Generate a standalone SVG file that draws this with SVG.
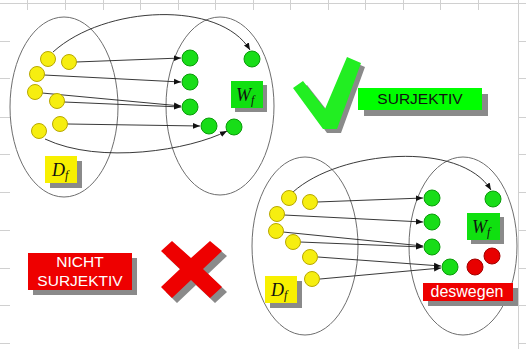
<svg xmlns="http://www.w3.org/2000/svg" width="526" height="349" viewBox="0 0 526 349">
<style>
.grid{stroke:#d0d0d0;stroke-width:1;fill:none}
.set{fill:none;stroke:#6e6e6e;stroke-width:1}
.arr{fill:none;stroke:#222;stroke-width:0.9;marker-end:url(#ah)}
.y{fill:#f6ee10;stroke:#b8a800;stroke-width:1}
.g{fill:#18dd18;stroke:#0a9a0a;stroke-width:1}
.r{fill:#e80000;stroke:#a00000;stroke-width:1}
.sh{fill:#8a8a8a}
.lbl{font-family:"Liberation Serif","Times New Roman",serif;font-style:italic;fill:#111}
.sans{font-family:"Liberation Sans",Arial,sans-serif}
</style>
<defs>
<marker id="ah" viewBox="0 0 10 10" refX="10" refY="5" markerWidth="7" markerHeight="7" orient="auto" markerUnits="userSpaceOnUse">
<path d="M0,1 L10,5 L0,9 z" fill="#111"/>
</marker>
</defs>
<rect width="526" height="349" fill="#ffffff"/>
<g id="grid">
<path class="grid" d="M0,3.5 H526 M518.5,0 V349"/>
<path class="grid" d="M27.5,0 V10 M65.5,0 V10 M103.5,0 V10 M140.5,0 V10 M178.5,0 V10 M215.5,0 V10 M253.5,0 V10 M290.5,0 V10 M328.5,0 V10 M365.5,0 V10 M403.5,0 V10 M440.5,0 V10 M478.5,0 V10"/>
<path class="grid" d="M0,41.5 H10 M0,78.5 H10 M0,117.5 H10 M0,154.5 H10 M0,192.5 H10 M0,230.5 H10 M0,268.5 H10 M0,305.5 H10 M0,343.5 H10"/>
<path class="grid" d="M518,41.5 H526 M518,78.5 H526 M518,117.5 H526 M518,154.5 H526 M518,192.5 H526 M518,230.5 H526 M518,268.5 H526 M518,305.5 H526 M518,343.5 H526"/>
</g>
<g id="set-df-top"><ellipse class="set" cx="64" cy="107" rx="54" ry="90"/></g>
<g id="set-wf-top"><ellipse class="set" cx="220" cy="106" rx="54" ry="89"/></g>
<g id="set-df-bottom"><ellipse class="set" cx="305" cy="246" rx="53" ry="89"/></g>
<g id="set-wf-bottom"><ellipse class="set" cx="463" cy="246" rx="54" ry="89"/></g>
<g id="connectors">
<path class="arr" d="M53,52 C105,5 220,0 250,50"/>
<path class="arr" d="M76,62 L181,58"/>
<path class="arr" d="M44,75 L181,82"/>
<path class="arr" d="M42,93 L181,106"/>
<path class="arr" d="M64,102 L181,107"/>
<path class="arr" d="M68,124 L200,126"/>
<path class="arr" d="M45,139 C100,165 190,150 227,131"/>
<path class="arr" d="M293,192 C340,150 460,140 491,190"/>
<path class="arr" d="M317,202 L423,198"/>
<path class="arr" d="M284,215 L423,222"/>
<path class="arr" d="M283,232 L423,246"/>
<path class="arr" d="M300,242 L423,247"/>
<path class="arr" d="M318,257 L441,266"/>
<path class="arr" d="M320,279 L441,268"/>
</g>
<g id="df-top-elements">
<circle class="y" cx="48" cy="59" r="7.5"/>
<circle class="y" cx="69" cy="62" r="7.5"/>
<circle class="y" cx="37" cy="74" r="7.5"/>
<circle class="y" cx="35" cy="92" r="7.5"/>
<circle class="y" cx="57" cy="101" r="7.5"/>
<circle class="y" cx="60" cy="124" r="7.5"/>
<circle class="y" cx="39" cy="131" r="7.5"/>
</g>
<g id="wf-top-elements">
<circle class="g" cx="190" cy="58" r="8"/>
<circle class="g" cx="252" cy="59" r="8"/>
<circle class="g" cx="190" cy="82" r="8"/>
<circle class="g" cx="190" cy="107" r="8"/>
<circle class="g" cx="209" cy="126" r="8"/>
<circle class="g" cx="234" cy="127" r="8"/>
</g>
<g id="label-df-top">
<rect class="sh" x="50" y="161" width="32" height="27"/>
<rect x="45" y="156" width="32" height="27" fill="#f8f000"/>
<text class="lbl" x="52" y="176" font-size="18">D<tspan font-size="12" dy="3">f</tspan></text>
</g>
<g id="label-wf-top">
<rect class="sh" x="235" y="85" width="32" height="27"/>
<rect x="231" y="81" width="32" height="27" fill="#10e010"/>
<text class="lbl" x="236" y="101" font-size="18">W<tspan font-size="12" dy="3">f</tspan></text>
</g>
<g id="check">
<polygon class="sh" points="297,92 307,85 329,113 351,61 365,67 341,133 327,133"/>
<polygon points="293,88 303,81 325,109 347,57 361,63 337,129 323,129" fill="#22ee22"/>
</g>
<g id="surjektiv">
<rect class="sh" x="364" y="94" width="124" height="22"/>
<rect x="358" y="88" width="124" height="22" fill="#00ff00"/>
<text class="sans" x="420" y="104" font-size="15.5" text-anchor="middle" fill="#111">SURJEKTIV</text>
</g>
<g id="nicht-surjektiv">
<rect class="sh" x="33" y="258" width="104" height="37"/>
<rect x="28" y="253" width="104" height="37" fill="#ee0000"/>
<text class="sans" x="80" y="267" font-size="15.5" text-anchor="middle" fill="#ffffff">NICHT</text>
<text class="sans" x="80" y="286" font-size="15.5" text-anchor="middle" fill="#ffffff">SURJEKTIV</text>
</g>
<g id="cross">
<polygon class="sh" points="166,256 177,246 196,263 215,246 227,256 208,274 227,292 215,303 196,285 177,303 166,292 185,274"/>
<polygon points="161,251 172,241 191,258 210,241 222,251 203,269 222,287 210,298 191,280 172,298 161,287 180,269" fill="#ee0000"/>
</g>
<g id="df-bottom-elements">
<circle class="y" cx="289" cy="198" r="7.5"/>
<circle class="y" cx="310" cy="202" r="7.5"/>
<circle class="y" cx="277" cy="214" r="7.5"/>
<circle class="y" cx="276" cy="231" r="7.5"/>
<circle class="y" cx="293" cy="242" r="7.5"/>
<circle class="y" cx="310" cy="257" r="7.5"/>
<circle class="y" cx="312" cy="279" r="7.5"/>
</g>
<g id="wf-bottom-elements">
<circle class="g" cx="432" cy="198" r="8"/>
<circle class="g" cx="493" cy="199" r="8"/>
<circle class="g" cx="432" cy="222" r="8"/>
<circle class="g" cx="432" cy="247" r="8"/>
<circle class="g" cx="450" cy="267" r="8"/>
<circle class="r" cx="475" cy="267" r="8"/>
<circle class="r" cx="492" cy="256" r="8"/>
</g>
<g id="label-df-bottom">
<rect class="sh" x="270" y="281" width="32" height="27"/>
<rect x="265" y="276" width="32" height="27" fill="#f8f000"/>
<text class="lbl" x="271" y="296" font-size="18">D<tspan font-size="12" dy="3">f</tspan></text>
</g>
<g id="label-wf-bottom">
<rect class="sh" x="471" y="217" width="33" height="27"/>
<rect x="467" y="213" width="33" height="27" fill="#10e010"/>
<text class="lbl" x="472" y="233" font-size="18">W<tspan font-size="12" dy="3">f</tspan></text>
</g>
<g id="deswegen">
<rect class="sh" x="428" y="288" width="90" height="18"/>
<rect x="423" y="283" width="90" height="18" fill="#ee0000"/>
<text class="sans" x="467" y="297" font-size="16" text-anchor="middle" fill="#ffffff">deswegen</text>
</g>
</svg>
